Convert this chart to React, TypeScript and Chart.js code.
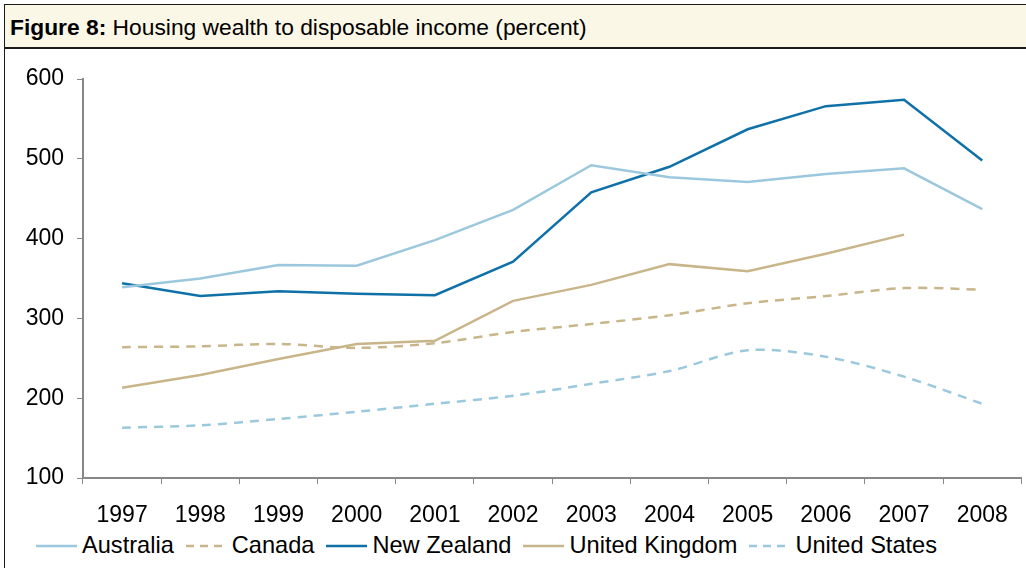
import React, { useEffect, useRef } from "react";
import { Chart, registerables } from "chart.js";

Chart.register(...registerables);

const years = ["1997", "1998", "1999", "2000", "2001", "2002", "2003", "2004", "2005", "2006", "2007", "2008"];
const australia = [339, 350, 367, 366, 398, 436, 492, 477, 471, 481, 488, 437];
const canada = [264, 265, 268, 263, 269, 283, 293, 304, 319, 328, 338, 336];
const newZealand = [344, 328, 334, 331, 329, 371, 458, 490, 537, 566, 574, 498];
const unitedKingdom = [213, 229, 249, 268, 272, 322, 342, 368, 359, 381, 405, null];
const unitedStates = [163, 166, 174, 183, 193, 203, 218, 234, 260, 252, 227, 193];

const LIGHT_BLUE = "#9cc8dd";
const DARK_BLUE = "#0f71a7";
const TAN = "#c8b68a";
const AXIS = "#888888";
const FONT = "'Liberation Sans', Arial, sans-serif";

const seriesDefs = [
  { label: "Australia", data: australia, color: LIGHT_BLUE, dash: [] as number[] },
  { label: "Canada", data: canada, color: TAN, dash: [9, 7] },
  { label: "New Zealand", data: newZealand, color: DARK_BLUE, dash: [] as number[] },
  { label: "United Kingdom", data: unitedKingdom, color: TAN, dash: [] as number[] },
  { label: "United States", data: unitedStates, color: LIGHT_BLUE, dash: [9, 7] },
];

export default function App() {
  const ref = useRef<HTMLCanvasElement | null>(null);

  useEffect(() => {
    document.body.style.margin = "0";
    const canvas = ref.current;
    if (!canvas) return;
    const chart = new Chart(canvas, {
      type: "line",
      data: {
        labels: years,
        datasets: seriesDefs.map((s) => ({
          label: s.label,
          data: s.data,
          borderColor: s.color,
          backgroundColor: s.color,
          borderWidth: 2.5,
          borderDash: s.dash,
          pointRadius: 0,
          tension: s.dash.length ? 0.3 : 0,
          fill: false,
          spanGaps: false,
        })),
      },
      options: {
        animation: false,
        responsive: false,
        maintainAspectRatio: false,
        layout: { padding: { top: 30, right: 4, left: 0, bottom: 0 } },
        plugins: { legend: { display: false }, tooltip: { enabled: false }, title: { display: false } },
        scales: {
          x: {
            type: "category",
            offset: true,
            grid: {
              display: true,
              offset: true,
              drawOnChartArea: false,
              drawTicks: true,
              tickLength: 6,
              color: AXIS,
              lineWidth: 1,
            },
            border: { display: true, color: AXIS, width: 2 },
            ticks: {
              color: "#000",
              font: { family: FONT, size: 23 },
              padding: 18,
              maxRotation: 0,
              autoSkip: false,
            },
            afterFit: (scale: any) => {
              scale.height = 53;
            },
          },
          y: {
            min: 100,
            max: 600,
            grid: {
              display: true,
              drawOnChartArea: false,
              drawTicks: true,
              tickLength: 6,
              color: AXIS,
              lineWidth: 1,
            },
            border: { display: true, color: AXIS, width: 2 },
            ticks: {
              stepSize: 100,
              color: "#000",
              font: { family: FONT, size: 23 },
              padding: 13,
            },
            afterFit: (scale: any) => {
              scale.width = 78;
            },
          },
        },
      },
    });
    return () => chart.destroy();
  }, []);

  return (
    <div
      style={{
        position: "fixed",
        left: 4,
        top: 4,
        width: 1022,
        height: 564,
        borderLeft: "1px solid #1a1a1a",
        borderTop: "1px solid #1a1a1a",
        background: "#ffffff",
        fontFamily: FONT,
        overflow: "hidden",
      }}
    >
      <div
        style={{
          height: 44,
          background: "#fbf7e6",
          borderBottom: "2px solid #1a1a1a",
          boxSizing: "border-box",
          display: "flex",
          alignItems: "center",
          paddingLeft: 5,
          fontSize: 22.8,
          color: "#000",
          paddingTop: 2,
        }}
      >
        <span style={{ fontWeight: "bold" }}>Figure 8:</span>
        <span>&nbsp;Housing wealth to disposable income (percent)</span>
      </div>
      <canvas ref={ref} width={1021} height={482} style={{ display: "block", width: 1021, height: 482 }} />
      <div
        style={{
          position: "absolute",
          left: 30,
          top: 527,
          display: "flex",
          alignItems: "center",
          fontSize: 23.6,
          color: "#000",
          whiteSpace: "nowrap",
        }}
      >
        {seriesDefs.map((s) => (
          <div key={s.label} style={{ display: "flex", alignItems: "center", marginRight: 11 }}>
            <svg width={43} height={10} style={{ marginRight: 4 }}>
              <line
                x1={1}
                y1={5}
                x2={42}
                y2={5}
                stroke={s.color}
                strokeWidth={2.5}
                strokeDasharray={s.dash.length ? "8 6" : undefined}
              />
            </svg>
            <span>{s.label}</span>
          </div>
        ))}
      </div>
    </div>
  );
}
